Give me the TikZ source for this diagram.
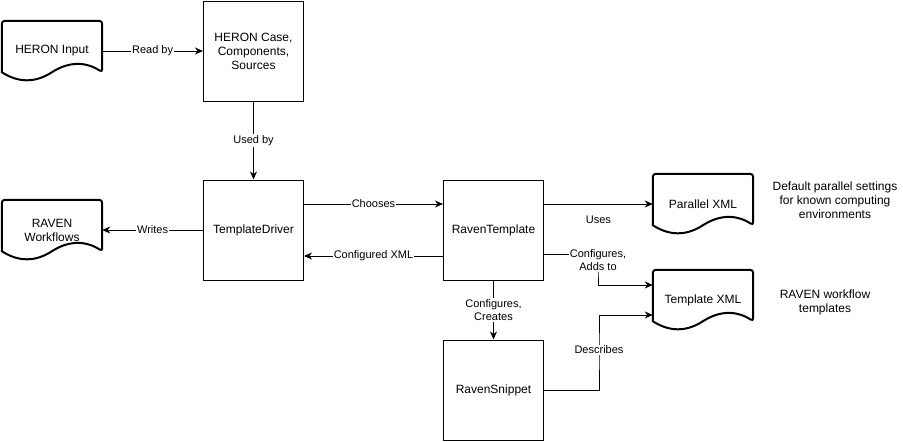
\documentclass[tikz,border=0pt]{standalone}
\usepackage{fontspec}
\setmainfont{Liberation Sans}
\usetikzlibrary{arrows.meta,positioning,calc}

\tikzset{
  box/.style={draw,line width=1pt,minimum width=100pt,minimum height=100pt,align=center,font=\fontsize{12}{14}\selectfont},
  doc/.style={minimum width=100pt,minimum height=60pt,align=center,font=\fontsize{12}{14}\selectfont},
  link/.style={line width=1pt,-{Stealth[length=8pt,width=7pt,inset=2.5pt]}},
  lbl/.style={fill=white,inner sep=1pt,align=center,font=\fontsize{11}{13}\selectfont},
  note/.style={align=center,font=\fontsize{12}{14}\selectfont}
}

% outline of a document shape round node #1
\newcommand{\docoutline}[1]{%
  \draw[line width=2pt,rounded corners=3pt] ($(#1.south west)+(0,-9)$) -- (#1.north west) -- (#1.north east) -- ($(#1.south east)+(0,-9)$)
    [sharp corners] .. controls +(-16.67,-10.8) and +(16.67,-10.8) .. ($(#1.south)+(0,-9)$)
    .. controls +(-16.67,10.8) and +(16.67,10.8) .. ($(#1.south west)+(0,-9)$) -- cycle;
}

\begin{document}
\begin{tikzpicture}[x=1pt,y=-1pt]
    \useasboundingbox (0,0) rectangle (903,442);

    \node[doc] (input) at (52,51) {HERON Input};
    \node[doc] (workflows) at (52,230) {RAVEN\\Workflows};
    \node[doc] (parallel) at (703,204) {Parallel XML};
    \node[doc] (template) at (703,300) {Template XML};
    \docoutline{input}
    \docoutline{workflows}
    \docoutline{parallel}
    \docoutline{template}

    \node[box] (case) at (253.5,51) {HERON Case,\\Components,\\Sources};
    \node[box] (driver) at (253.5,230) {TemplateDriver};
    \node[box] (ravtemp) at (493.5,230) {RavenTemplate};
    \node[box] (snippet) at (493.5,390) {RavenSnippet};

    \node[note] (parnote) at (835,200) {Default parallel settings\\for known computing\\environments};
    \node[note] (tmplnote) at (825,302) {RAVEN workflow\\templates};

    \draw[link] (input) -- node[lbl] {Read by} (case);
    \draw[link] (case) -- node[lbl] {Used by} (driver);
    \draw[link] (driver) -- node[lbl] {Writes} (workflows);
    \draw[link] ([yshift=26pt]driver.east) -- node[lbl] {Chooses} ([yshift=26pt]ravtemp.west);
    \draw[link] ([yshift=-26pt]ravtemp.west) -- node[lbl] {Configured XML} ([yshift=-26pt]driver.east);
    \draw[link] (ravtemp) -- node[lbl] {Configures,\\Creates} (snippet);
    \draw[link] ([yshift=26pt]ravtemp.east) -- node[below=8pt,font=\fontsize{11}{13}\selectfont] {Uses} (parallel);

    \coordinate (addsto) at (598,270);
    \draw[link] ([yshift=-24pt]ravtemp.east) -| (addsto) |- ([yshift=15pt]template.west);
    \node[lbl] (addslbl) at (598,260) {Configures,\\Adds to};

    \coordinate (descr) at (599,350);
    \draw[link] (snippet) -| (descr) |- ([yshift=-15pt]template.west);
    \node[lbl] (descrlbl) at (descr) {Describes};
\end{tikzpicture}
\end{document}
